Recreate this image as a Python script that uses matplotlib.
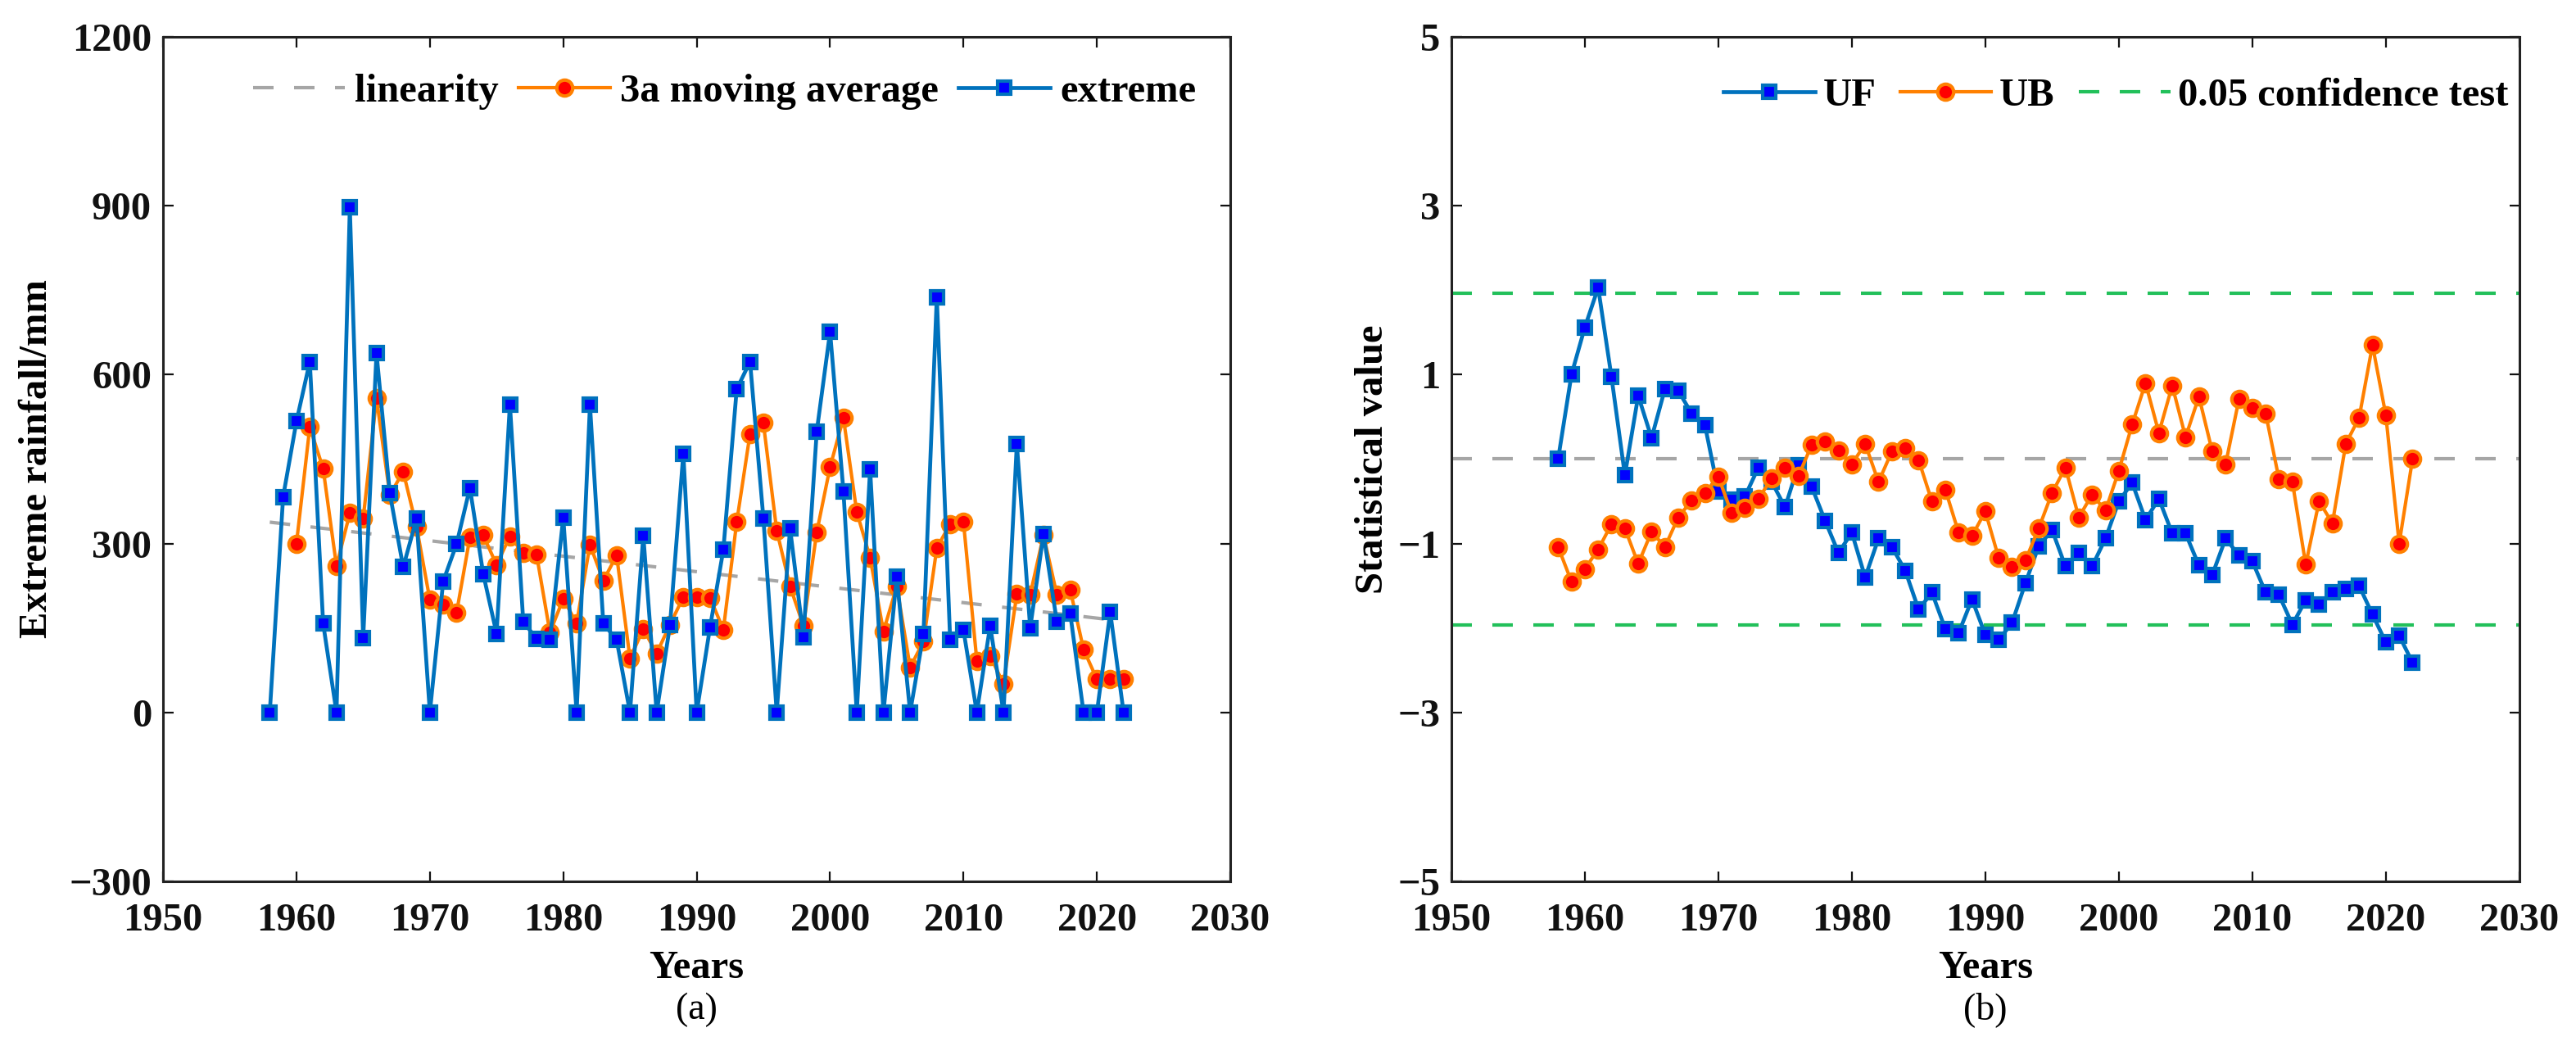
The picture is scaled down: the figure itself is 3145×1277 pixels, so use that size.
import numpy as np
import matplotlib
matplotlib.use("Agg")
import matplotlib.pyplot as plt

# 1. Data
years = np.arange(1958, 2023)

extreme = [0, 383, 517, 623, 158, 0, 897, 132, 638, 389,
           258, 344, 0, 233, 299, 399, 246, 140, 547, 161,
           131, 129, 346, 0, 546, 158, 129, 0, 314, 0,
           155, 460, 0, 151, 289, 574, 623, 345, 0, 327,
           134, 499, 676, 393, 0, 432, 0, 241, 0, 139,
           738, 129, 146, 0, 154, 0, 477, 150, 317, 161,
           176, 0, 0, 178, 0]

ma_years = np.arange(1960, 2023)
moving_avg = [300, 507, 433, 260, 354, 344, 558, 386, 428, 330,
              200, 192, 177, 311, 315, 262, 313, 283, 280, 142,
              202, 158, 298, 234, 279, 96, 148, 105, 156, 205,
              205, 204, 147, 338, 495, 514, 323, 224, 154, 320,
              436, 523, 356, 275, 144, 224, 80, 126, 292, 335,
              338, 92, 100, 51, 210, 209, 315, 209, 218, 112,
              59, 59, 59]

trend_years = [1958, 2022]
trend_vals = [338, 162]

UF = [0.00, 1.00, 1.56, 2.03, 0.97, -0.19, 0.75, 0.25, 0.83, 0.81,
      0.54, 0.40, -0.38, -0.48, -0.44, -0.10, -0.27, -0.57, -0.07, -0.33,
      -0.73, -1.11, -0.87, -1.40, -0.94, -1.04, -1.32, -1.78, -1.58, -2.01,
      -2.06, -1.66, -2.08, -2.14, -1.94, -1.47, -1.03, -0.84, -1.27, -1.11,
      -1.27, -0.94, -0.50, -0.28, -0.72, -0.47, -0.88, -0.88, -1.26, -1.37,
      -0.94, -1.14, -1.21, -1.58, -1.61, -1.96, -1.67, -1.72, -1.58, -1.54,
      -1.50, -1.84, -2.17, -2.09, -2.41]

UB = [-1.04, -1.45, -1.30, -1.07, -0.77, -0.82, -1.24, -0.86, -1.04, -0.69,
      -0.49, -0.40, -0.21, -0.64, -0.58, -0.47, -0.23, -0.10, -0.20, 0.17,
      0.21, 0.10, -0.06, 0.18, -0.27, 0.09, 0.13, -0.01, -0.50, -0.36,
      -0.87, -0.91, -0.62, -1.17, -1.28, -1.20, -0.82, -0.40, -0.10, -0.69,
      -0.42, -0.61, -0.14, 0.41, 0.90, 0.31, 0.87, 0.26, 0.74, 0.09,
      -0.06, 0.71, 0.61, 0.54, -0.24, -0.27, -1.25, -0.50, -0.76, 0.18,
      0.49, 1.35, 0.52, -1.00, 0.00]

conf = 1.96

# 2. Styling
plt.rcParams['font.family'] = ['Liberation Serif', 'DejaVu Serif']
plt.rcParams['font.weight'] = 'bold'
plt.rcParams['axes.labelweight'] = 'bold'
FS = 35

blue = '#0072BD'
orange = '#FF8000'
green = '#22C05A'
gray = '#A6A6A6'

blue_style = dict(color=blue, lw=3.4, marker='s', markersize=12,
                  markerfacecolor='#0000FF', markeredgecolor=blue, markeredgewidth=3)
orange_style = dict(color=orange, lw=3.0, marker='o', markersize=14,
                    markerfacecolor='#FF0000', markeredgecolor=orange, markeredgewidth=3)

fig = plt.figure(figsize=(31.45, 12.77), dpi=100)
ax1 = fig.add_axes([0.0633, 0.1574, 0.4143, 0.8074])
ax2 = fig.add_axes([0.5634, 0.1574, 0.4146, 0.8074])


def style_axes(ax):
    for s in ax.spines.values():
        s.set_linewidth(2.2)
        s.set_color('#222222')
    ax.tick_params(direction='in', top=True, right=True, length=9, width=1.6,
                   labelsize=FS, colors='#111111')
    ax.tick_params(axis='x', pad=19)
    ax.tick_params(axis='y', pad=10)
    ax.set_xlim(1950, 2030)
    ax.set_xticks(np.arange(1950, 2031, 10))
    ax.set_xlabel('Years', fontsize=FS, va='center')
    ax.xaxis.set_label_coords(0.5, -0.103)


# 3. Left panel: extreme rainfall
ax1.plot(trend_years, trend_vals, color=gray, lw=3, dashes=(6, 6), label='linearity')
ax1.plot(ma_years, moving_avg, label='3a moving average', **orange_style)
ax1.plot(years, extreme, label='extreme', **blue_style)
style_axes(ax1)
ax1.set_ylim(-300, 1200)
ax1.set_yticks(np.arange(-300, 1201, 300))
ax1.set_ylabel('Extreme rainfall/mm', fontsize=FS, va='center', ha='center')
ax1.yaxis.set_label_coords(-0.118, 0.5)
ax1.legend(loc='center right', bbox_to_anchor=(0.968, 0.935), ncol=3, frameon=False,
           fontsize=FS, borderpad=0, borderaxespad=0, handlelength=2.3,
           handletextpad=0.25, columnspacing=0.5)

# 4. Right panel: Mann-Kendall test
ax2.axhline(0, color=gray, lw=3, dashes=(6, 6), zorder=1)
l_uf, = ax2.plot(years, UF, label='UF', **blue_style)
l_ub, = ax2.plot(years, UB, label='UB', **orange_style)
l_cf = ax2.axhline(conf, color=green, lw=3, dashes=(6, 6), zorder=1,
                   label='0.05 confidence test')
ax2.axhline(-conf, color=green, lw=3, dashes=(6, 6), zorder=1)
style_axes(ax2)
ax2.set_ylim(-5, 5)
ax2.set_yticks(np.arange(-5, 6, 2))
ax2.set_ylabel('Statistical value', fontsize=FS, va='center', ha='center')
ax2.yaxis.set_label_coords(-0.0736, 0.5)
ax2.legend(handles=[l_uf, l_ub, l_cf], loc='center right', bbox_to_anchor=(0.990, 0.930),
           ncol=3, frameon=False, fontsize=FS, borderpad=0, borderaxespad=0,
           handlelength=2.3, handletextpad=0.2, columnspacing=0.6)

# 5. Panel captions
fig.text(0.2704, 0.0345, '(a)', fontsize=33, fontweight='normal', ha='center', va='center')
fig.text(0.7708, 0.0345, '(b)', fontsize=33, fontweight='normal', ha='center', va='center')

fig.savefig('out.png', dpi=100)
